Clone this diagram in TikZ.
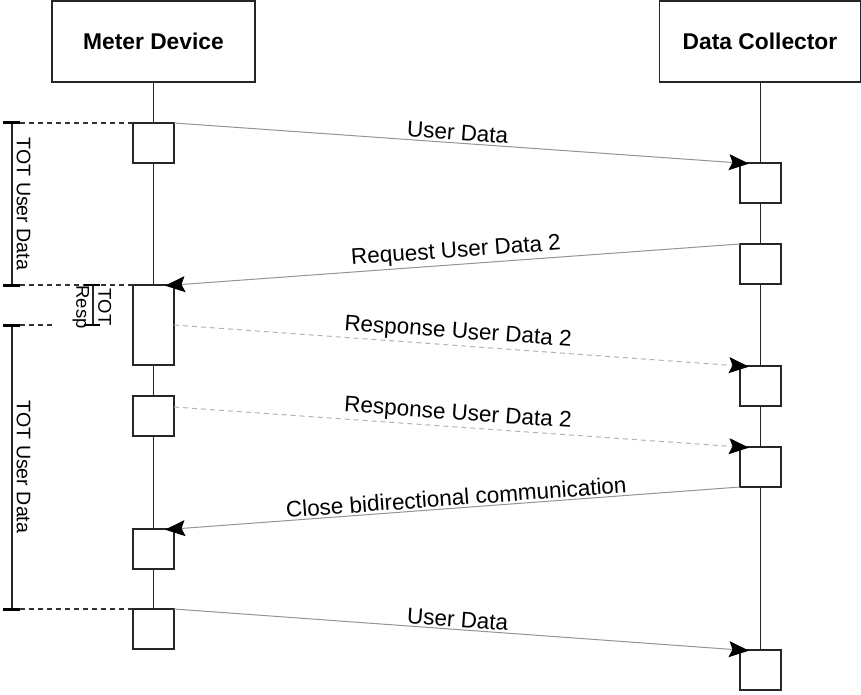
\documentclass[tikz,border=0pt]{standalone}
\usepackage{fontspec}
\setmainfont{Liberation Sans}
\usetikzlibrary{arrows.meta,calc,backgrounds}
\begin{document}
\begin{tikzpicture}[x=1pt,y=-1pt,
  box/.style={draw=black!85, line width=1.3pt, fill=white, inner sep=0pt, outer sep=0pt},
  head/.style={box, minimum width=203pt, minimum height=81pt, font=\fontsize{22.8}{26}\selectfont\bfseries},
  act/.style={box, minimum width=41pt, minimum height=40pt},
  tallact/.style={act, minimum height=80pt},
  life/.style={draw=black!85, line width=1.3pt},
  msg/.style={draw=black!42, line width=1pt, shorten >=-9pt, -{Stealth[length=20pt,width=16pt,inset=3.5pt,black]}},
  rsp/.style={msg, draw=black!30, dash pattern=on 5pt off 4pt},
  lbl/.style={pos=0.5, above, sloped, inner sep=2pt, font=\fontsize{22.5}{26}\selectfont},
  brk/.style={draw=black!85, line width=1.3pt},
  tick/.style={draw=black, line width=3pt},
  guide/.style={draw=black!80, line width=1.2pt, dash pattern=on 5pt off 4pt},
  totlbl/.style={rotate=-90, inner sep=0pt, font=\fontsize{19.6}{22}\selectfont},
  resplbl/.style={rotate=-90, inner sep=0pt, align=center, font=\fontsize{18.5}{22}\selectfont}
]
\useasboundingbox (0,0) rectangle (861,695);

% headers
\node[head] (md) at (153.5,41.5) {Meter Device};
\node[head, minimum width=201pt] (dc) at (760,41.5) {Data Collector};

% activation boxes, meter side
\node[act] (m1) at (153.5,143) {};
\node[tallact] (m2) at (153.5,325) {};
\node[act] (m3) at (153.5,416) {};
\node[act] (m4) at (153.5,549) {};
\node[act] (m5) at (153.5,629) {};

% activation boxes, collector side
\node[act] (c1) at (760.5,183) {};
\node[act] (c2) at (760.5,264) {};
\node[act] (c3) at (760.5,386) {};
\node[act] (c4) at (760.5,467) {};
\node[act] (c5) at (760.5,670) {};

% lifelines
\begin{pgfonlayer}{background}
\draw[life] (md.south) -- (m5.north);
\draw[life] (dc.south -| c1.north) -- (c5.north);
\end{pgfonlayer}

% messages
\draw[msg] (m1.north east) -- (c1.north west) node[lbl] {User Data};
\draw[msg] (c2.north west) -- (m2.north east) node[lbl] {Request User Data 2};
\draw[rsp] (m2.east) -- (c3.north west) node[lbl] {Response User Data 2};
\draw[rsp] ([yshift=-11pt]m3.north east) -- (c4.north west) node[lbl] {Response User Data 2};
\draw[msg] (c4.south west) -- (m4.north east) node[lbl] {Close bidirectional communication};
\draw[msg] (m5.north east) -- (c5.north west) node[lbl] {User Data};

% brackets
\coordinate (bx) at (12,0);
\coordinate (rx) at (93,0);
\coordinate (b1t) at (bx |- m1.north);
\coordinate (b1b) at (bx |- m2.north);
\coordinate (r1t) at (rx |- m2.north);
\coordinate (r1b) at (rx |- m2.east);
\coordinate (b2t) at (bx |- m2.east);
\coordinate (b2b) at (bx |- m5.north);

\draw[guide] ([xshift=8pt]b1t) -- (m1.north west);
\draw[guide] ([xshift=8pt]b1b) -- (m2.north west);
\draw[guide] ([xshift=8pt]b2t) -- ([xshift=41pt]b2t);
\draw[guide] ([xshift=8pt]b2b) -- (m5.north west);

\draw[brk] (b1t) -- (b1b);
\draw[tick] ([xshift=-9pt]b1t) -- ([xshift=8pt]b1t);
\draw[tick] ([xshift=-9pt]b1b) -- ([xshift=8pt]b1b);
\node[totlbl] (t1) at ($(b1t)!0.5!(b1b)+(11.5,0)$) {TOT User Data};

\draw[brk] (b2t) -- (b2b);
\draw[tick] ([xshift=-9pt]b2t) -- ([xshift=8pt]b2t);
\draw[tick] ([xshift=-9pt]b2b) -- ([xshift=8pt]b2b);
\node[totlbl] (t2) at ($(b2t)!0.5!(b2b)+(11.5,0)$) {TOT User Data};

\draw[brk] (r1t) -- (r1b);
\draw[tick, line width=2pt] ([xshift=-9pt]r1t) -- ([xshift=7pt]r1t);
\draw[tick, line width=2.5pt] ([xshift=-9pt]r1b) -- ([xshift=7pt]r1b);
\node[resplbl] (tr) at (92,307) {TOT\\Resp};
\end{tikzpicture}
\end{document}
